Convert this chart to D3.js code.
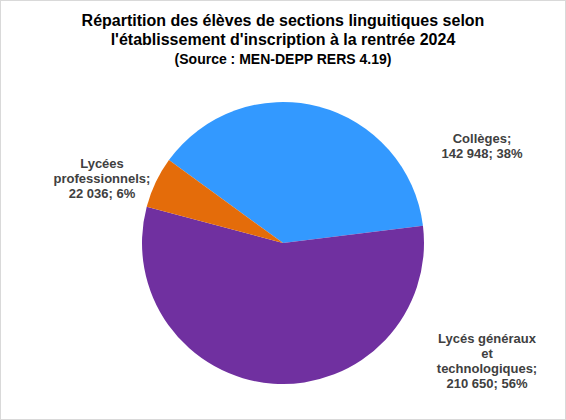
<!DOCTYPE html>
<html>
<head>
<meta charset="utf-8">
<script src="https://cdn.jsdelivr.net/npm/d3@7"></script>
<style>
  body { margin: 0; background: #fff; }
  svg { display: block; font-family: "Liberation Sans", Arial, sans-serif; }
</style>
</head>
<body>
<div id="chart"></div>
<script>
// data
var categories = ["Collèges", "Lycés généraux et technologiques", "Lycées professionnels"];
var values = [142948, 210650, 22036];
var percents = ["38%", "56%", "6%"];
var labelLines = [
  ["Collèges;", "142 948; 38%"],
  ["Lycés généraux", "et", "technologiques;", "210 650; 56%"],
  ["Lycées", "professionnels;", "22 036; 6%"]
];
var colors = ["#3399ff", "#7030a0", "#e46c0a"];
var titleLines = [
  "Répartition des élèves de sections linguitiques selon",
  "l'établissement d'inscription à la rentrée 2024"
];
var subtitle = "(Source : MEN-DEPP RERS 4.19)";

var w = 566, h = 420;
var cx = 283, cy = 243, r = 141;
var firstAngle = -54 * Math.PI / 180;

var svg = d3.select("#chart").append("svg")
    .attr("width", w)
    .attr("height", h);

svg.append("rect")
    .attr("x", 0.5).attr("y", 0.5)
    .attr("width", w - 1).attr("height", h - 1)
    .attr("fill", "#fff")
    .attr("stroke", "#d9d9d9");

var title = svg.append("text")
    .attr("text-anchor", "middle")
    .attr("font-weight", "bold")
    .attr("fill", "#000");
title.selectAll("tspan")
    .data(titleLines)
  .enter().append("tspan")
    .attr("x", w / 2)
    .attr("y", function(d, i) { return 26 + i * 19; })
    .attr("font-size", 16)
    .text(function(d) { return d; });
svg.append("text")
    .attr("x", w / 2).attr("y", 64)
    .attr("text-anchor", "middle")
    .attr("font-weight", "bold")
    .attr("font-size", 14)
    .text(subtitle);

var pie = d3.pie()
    .sort(null)
    .startAngle(firstAngle)
    .endAngle(firstAngle + 2 * Math.PI);
var arc = d3.arc().innerRadius(0).outerRadius(r);

var g = svg.append("g").attr("transform", "translate(" + cx + "," + cy + ")");
g.selectAll("path")
    .data(pie(values))
  .enter().append("path")
    .attr("d", arc)
    .attr("fill", function(d, i) { return colors[i]; });

// label anchor positions (centre of first line), placed outside the pie like Excel
var labelPos = [[482, 143], [487, 343], [102, 168]];
svg.selectAll("text.lbl")
    .data(labelLines)
  .enter().append("text")
    .attr("class", "lbl")
    .attr("text-anchor", "middle")
    .attr("font-weight", "bold")
    .attr("font-size", 13)
    .attr("fill", "#404040")
    .each(function(lines, i) {
      d3.select(this).selectAll("tspan")
          .data(lines)
        .enter().append("tspan")
          .attr("x", labelPos[i][0])
          .attr("y", function(d, j) { return labelPos[i][1] + j * 15; })
          .text(function(d) { return d; });
    });
</script>
</body>
</html>
